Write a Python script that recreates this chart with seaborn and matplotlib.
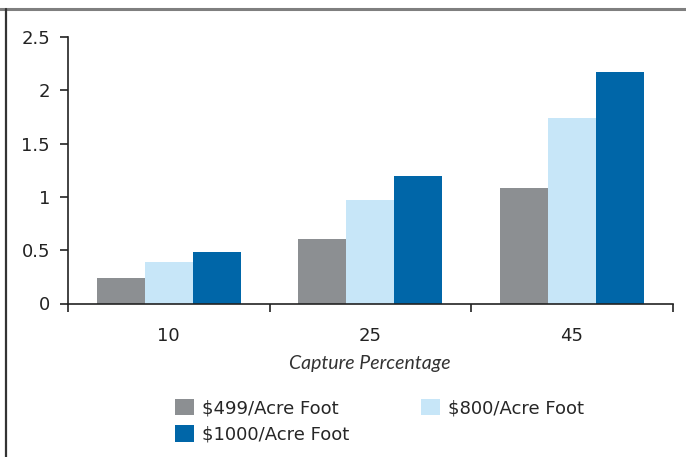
import pandas as pd
import matplotlib.pyplot as plt
import seaborn as sns
from matplotlib.lines import Line2D
from matplotlib.patches import Patch

# data
capture = ["10", "25", "45"]
price_499 = [0.24, 0.605, 1.085]
price_800 = [0.39, 0.97, 1.74]
price_1000 = [0.48, 1.20, 2.17]
series = ["$499/Acre Foot", "$800/Acre Foot", "$1000/Acre Foot"]
colors = ["#8C8F92", "#C7E6F8", "#0066A8"]

rows = []
for name, vals in zip(series, [price_499, price_800, price_1000]):
    for c, v in zip(capture, vals):
        rows.append({"Capture": c, "Price": name, "Value": v})
df = pd.DataFrame(rows)

sns.set_style("white")
plt.rcParams["font.family"] = ["DejaVu Sans"]

fig = plt.figure(figsize=(6.86, 4.57), dpi=100)
ax = fig.add_axes([68 / 686, 1 - 303.5 / 457, (672.5 - 68) / 686, (303.5 - 37) / 457])

sns.barplot(data=df, x="Capture", y="Value", hue="Price", hue_order=series,
            palette=colors, width=0.716, saturation=1, gap=0, ax=ax,
            edgecolor="none", linewidth=0)

ax.set_xlim(-0.5, 2.5)
ax.set_ylim(0, 2.5)
ax.set_yticks([0, 0.5, 1, 1.5, 2, 2.5])
ax.set_yticklabels(["0", "0.5", "1", "1.5", "2", "2.5"])
ax.set_xticks([0, 1, 2])
ax.set_xticks([-0.5, 0.5, 1.5, 2.5], minor=True)
ax.tick_params(axis="x", which="major", bottom=False, length=0, pad=17,
               labelsize=13, colors="#222222")
ax.tick_params(axis="x", which="minor", bottom=True, length=6, width=1.2,
               direction="out", color="#222222")
ax.tick_params(axis="y", length=6, width=1.2, direction="out", color="#222222",
               labelsize=13, pad=7, left=True)
for lbl in ax.get_yticklabels():
    lbl.set_color("#222222")

sns.despine(ax=ax, top=True, right=True)
for s in ["left", "bottom"]:
    ax.spines[s].set_color("#222222")
    ax.spines[s].set_linewidth(1.2)

ax.set_ylabel("")
ax.set_xlabel("Capture Percentage", fontsize=14, fontstyle="italic",
              family=["Lato", "DejaVu Sans"], color="#333333", labelpad=7)

ax.legend_.remove()
# legend fills row-wise in the reference: reorder for matplotlib's column fill
order = [0, 2, 1]
handles = [Patch(facecolor=colors[i], edgecolor="none") for i in order]
labels = [series[i] for i in order]
fig.legend(handles, labels, loc="upper left", bbox_to_anchor=(162 / 686, 1 - 386 / 457),
           ncol=2, frameon=False, fontsize=13, handlelength=1.05, handleheight=1.05,
           handletextpad=0.45, columnspacing=4.0, labelspacing=0.45, borderpad=0.2)

# outer frame: top (gray) and left (dark) lines
fig.add_artist(Line2D([0, 1], [1 - 9 / 457, 1 - 9 / 457], color="#7F7F7F", lw=2.2))
fig.add_artist(Line2D([6 / 686, 6 / 686], [0, 1 - 9 / 457], color="#333333", lw=1.6))

fig.savefig("out.png", dpi=100)
